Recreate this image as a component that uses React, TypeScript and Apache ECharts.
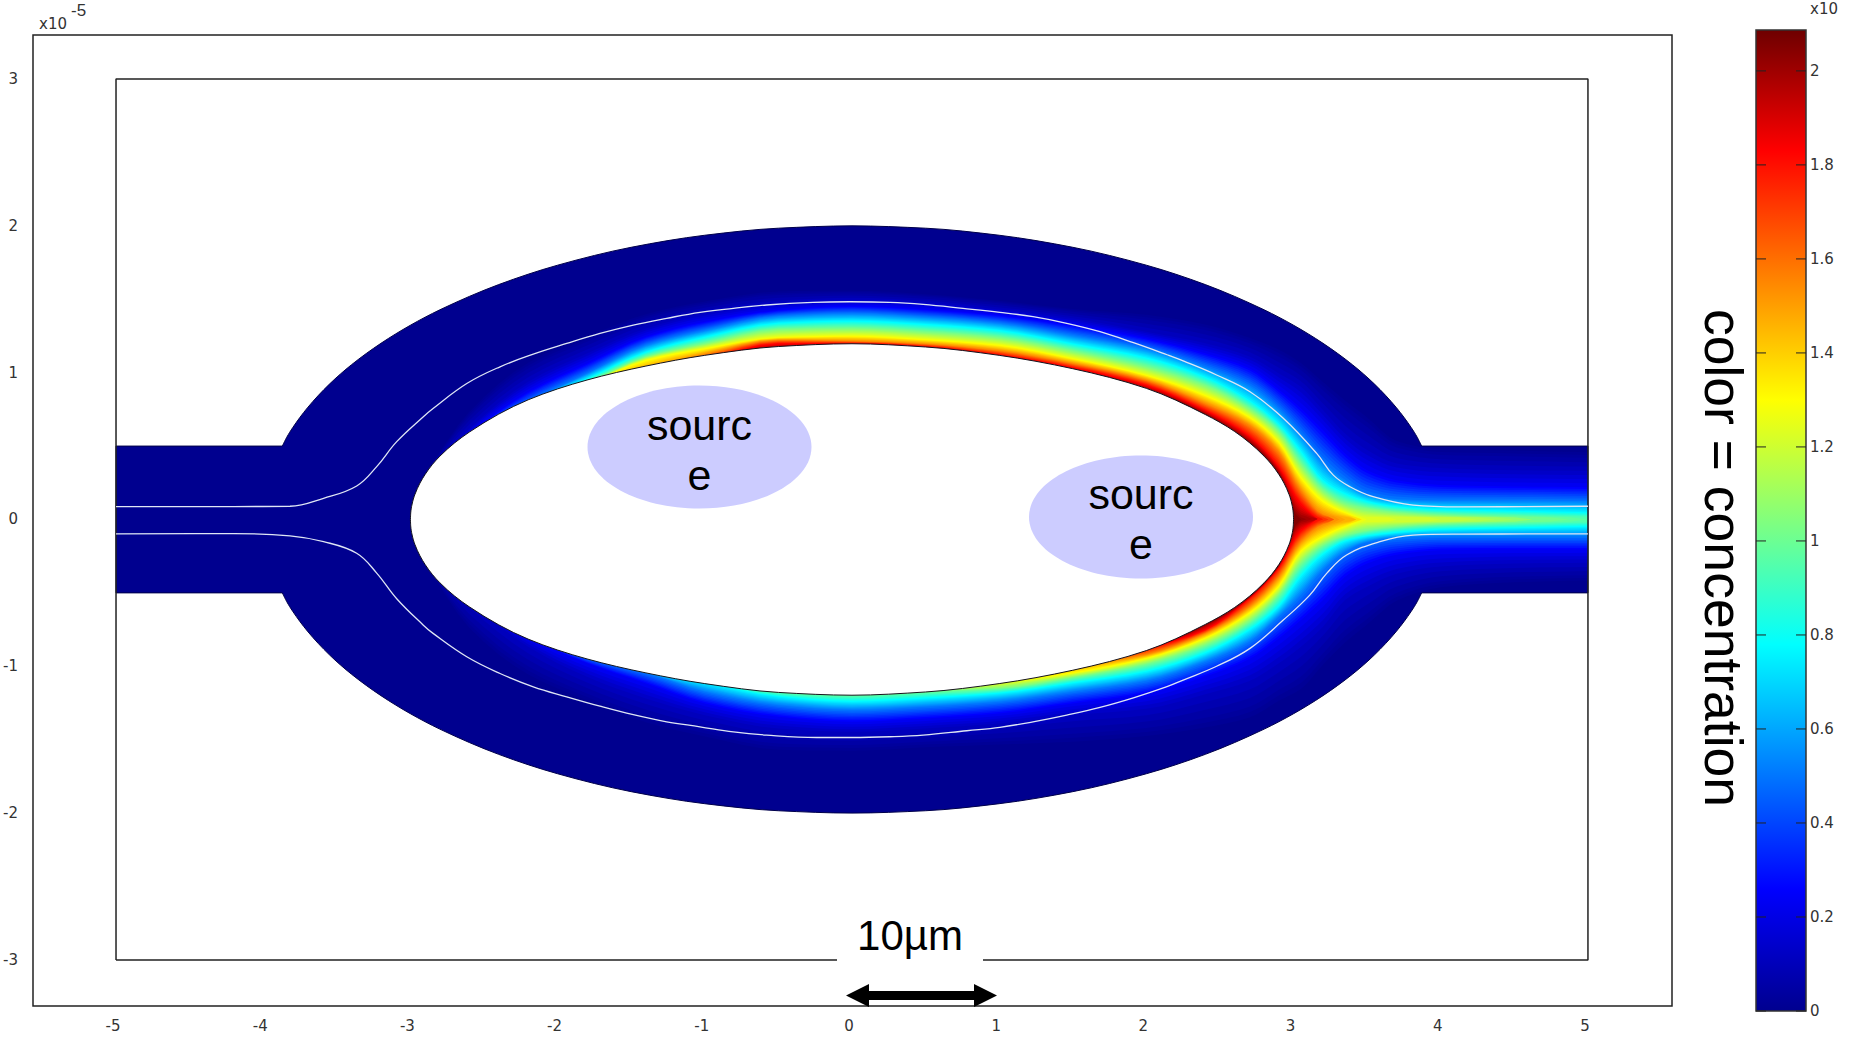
import React, { useEffect, useRef } from "react";
import * as echarts from "echarts";

// ---- axis ticks ----
const xTicks = [-5, -4, -3, -2, -1, 0, 1, 2, 3, 4, 5];
const yTicks = [-3, -2, -1, 0, 1, 2, 3];
const barTicks = [0, 0.2, 0.4, 0.6, 0.8, 1, 1.2, 1.4, 1.6, 1.8, 2];
const barMax = 2.087;

// ---- colour scale (value, r, g, b) ----
const scaleValues = [0, 0.26, 0.78, 1.3, 1.83, 2.087];
const scaleRGB = [[0, 0, 143], [0, 0, 255], [0, 255, 255], [255, 255, 0], [255, 0, 0], [110, 0, 0]];

// ---- geometry ----
const frameBox = [[-5, -3], [-5, 3], [5, 3], [5, -3], [-5, -3]];
const arcX = [-3.87, -3.84, -3.8, -3.7, -3.55, -3.4, -3.2, -3, -2.8, -2.4, -2, -1.5, -1, -0.5, 0, 0.5, 1, 1.5, 2, 2.4, 2.8, 3, 3.2, 3.4, 3.55, 3.7, 3.8, 3.84, 3.87];
const arcY = [0.5, 0.56, 0.625, 0.76, 0.922, 1.054, 1.2, 1.323, 1.428, 1.6, 1.732, 1.854, 1.936, 1.984, 2, 1.984, 1.936, 1.854, 1.732, 1.6, 1.428, 1.323, 1.2, 1.054, 0.922, 0.76, 0.625, 0.56, 0.5];
const holeX = [-3, -2.998, -2.99, -2.97, -2.9, -2.8, -2.6, -2.2, -1.8, -1.4, -1, -0.5, 0, 0.5, 1, 1.5, 2, 2.4, 2.6, 2.8, 2.9, 2.97, 2.99, 2.998, 3];
const holeY = [0, 0.044, 0.098, 0.169, 0.307, 0.431, 0.595, 0.815, 0.95, 1.045, 1.118, 1.178, 1.197, 1.175, 1.118, 1.027, 0.893, 0.715, 0.599, 0.431, 0.307, 0.169, 0.098, 0.044, 0];

// ---- white contour lines ----
const streamTop = [[-5, 0.087], [-4.2, 0.088], [-3.818, 0.09], [-3.59, 0.144], [-3.365, 0.228], [-3.229, 0.36], [-3.093, 0.53], [-2.912, 0.7], [-2.846, 0.756], [-2.617, 0.926], [-2.391, 1.04], [-2.165, 1.126], [-1.938, 1.199], [-1.712, 1.267], [-1.486, 1.324], [-1.259, 1.37], [-1.033, 1.411], [-0.806, 1.438], [-0.58, 1.461], [-0.265, 1.479], [-0.014, 1.483], [0.258, 1.479], [0.484, 1.465], [0.754, 1.438], [1.005, 1.411], [1.23, 1.381], [1.459, 1.336], [1.685, 1.279], [1.912, 1.204], [2.14, 1.122], [2.25, 1.08], [2.477, 0.984], [2.704, 0.87], [2.93, 0.689], [3.157, 0.45], [3.27, 0.302], [3.383, 0.223], [3.54, 0.155], [3.812, 0.098], [4.13, 0.086], [5, 0.09]];
const streamBottom = [[-5, -0.098], [-4.2, -0.096], [-3.818, -0.112], [-3.59, -0.151], [-3.365, -0.23], [-3.229, -0.365], [-3.093, -0.54], [-2.912, -0.72], [-2.846, -0.776], [-2.617, -0.935], [-2.391, -1.049], [-2.165, -1.14], [-1.938, -1.208], [-1.712, -1.272], [-1.486, -1.33], [-1.259, -1.378], [-1.033, -1.412], [-0.806, -1.447], [-0.58, -1.469], [-0.24, -1.485], [0, -1.485], [0.258, -1.48], [0.484, -1.469], [0.78, -1.439], [1.005, -1.416], [1.23, -1.378], [1.459, -1.332], [1.685, -1.28], [1.912, -1.215], [2.14, -1.139], [2.25, -1.094], [2.477, -1], [2.704, -0.878], [2.93, -0.685], [3.11, -0.515], [3.225, -0.367], [3.36, -0.242], [3.587, -0.151], [3.812, -0.107], [4.13, -0.1], [5, -0.098]];

// ---- concentration field: y of each iso-level at the x stations ----
const stations = [-2.9, -2.6, -2.2, -1.8, -1.4, -1, -0.5, 0, 0.5, 1, 1.5, 2, 2.4, 2.7, 2.9, 3.05, 3.2, 3.35, 3.5, 3.7, 4, 4.5, 5];
const levels = [0.05, 0.13, 0.26, 0.52, 0.78, 1.04, 1.3, 1.56, 1.83, 2.05];
const top005 = [0.31, 0.7, 1.029, 1.211, 1.37, 1.461, 1.529, 1.54, 1.517, 1.472, 1.415, 1.36, 1.29, 1.2, 1.109, 1.018, 0.88, 0.745, 0.63, 0.49, 0.44, 0.43, 0.42];
const top013 = [0.3, 0.62, 0.938, 1.131, 1.301, 1.404, 1.472, 1.495, 1.476, 1.431, 1.37, 1.279, 1.2, 1.11, 0.995, 0.904, 0.745, 0.586, 0.473, 0.382, 0.35, 0.335, 0.33];
const top026 = [0.29, 0.58, 0.87, 1.063, 1.245, 1.347, 1.426, 1.454, 1.431, 1.392, 1.324, 1.234, 1.132, 1.03, 0.885, 0.757, 0.609, 0.45, 0.336, 0.268, 0.235, 0.225, 0.22];
const top052 = [0.28, 0.57, 0.8, 0.995, 1.188, 1.29, 1.386, 1.405, 1.381, 1.34, 1.256, 1.166, 1.041, 0.916, 0.757, 0.586, 0.4, 0.27, 0.175, 0.14, 0.13, 0.13, 0.125];
const top078 = [0.27, 0.56, 0.79, 0.96, 1.142, 1.245, 1.34, 1.354, 1.331, 1.29, 1.199, 1.104, 0.973, 0.814, 0.654, 0.47, 0.27, 0.18, 0.125, 0.09, 0.07, 0.06, 0.05];
const top104 = [0.26, 0.55, 0.78, 0.93, 1.108, 1.199, 1.295, 1.302, 1.279, 1.24, 1.149, 1.041, 0.916, 0.757, 0.598, 0.38, 0.2, 0.11, 0.075, 0.05, 0.03, 0.015, 0];
const top130 = [0.25, 0.54, 0.77, 0.92, 1.086, 1.165, 1.24, 1.25, 1.226, 1.188, 1.097, 0.984, 0.848, 0.7, 0.529, 0.29, 0.13, 0.05, 0, 0, 0, 0, 0];
const top156 = [0.24, 0.53, 0.76, 0.91, 1.02, 1.125, 1.222, 1.214, 1.195, 1.149, 1.063, 0.95, 0.791, 0.643, 0.461, 0.2, 0.035, 0, 0, 0, 0, 0, 0];
const top183 = [0.23, 0.52, 0.75, 0.9, 1.01, 1.09, 1.2, 1.2, 1.178, 1.122, 1.036, 0.916, 0.745, 0.57, 0.36, 0.11, 0, 0, 0, 0, 0, 0, 0];
const top205 = [0.22, 0.51, 0.74, 0.89, 1, 1.08, 1.16, 1.18, 1.15, 1.1, 1, 0.885, 0.715, 0.527, 0.315, 0, 0, 0, 0, 0, 0, 0, 0];
const low005 = [-0.3, -0.685, -1, -1.185, -1.333, -1.435, -1.526, -1.537, -1.514, -1.491, -1.46, -1.42, -1.35, -1.276, -1.16, -1.07, -0.913, -0.753, -0.64, -0.5, -0.42, -0.39, -0.38];
const low013 = [-0.29, -0.56, -0.867, -1.072, -1.219, -1.333, -1.424, -1.446, -1.423, -1.389, -1.332, -1.29, -1.19, -1.1, -0.98, -0.867, -0.73, -0.549, -0.458, -0.37, -0.32, -0.3, -0.295];
const low026 = [-0.285, -0.55, -0.8, -0.98, -1.117, -1.253, -1.344, -1.378, -1.355, -1.321, -1.253, -1.185, -1.07, -0.95, -0.81, -0.685, -0.549, -0.39, -0.3, -0.24, -0.21, -0.205, -0.205];
const low052 = [-0.28, -0.54, -0.79, -0.94, -1.045, -1.174, -1.265, -1.298, -1.276, -1.241, -1.173, -1.099, -0.97, -0.833, -0.662, -0.515, -0.344, -0.22, -0.155, -0.125, -0.115, -0.115, -0.115];
const low078 = [-0.27, -0.53, -0.78, -0.93, -1.035, -1.11, -1.208, -1.241, -1.219, -1.185, -1.116, -1.038, -0.912, -0.754, -0.594, -0.39, -0.24, -0.15, -0.115, -0.09, -0.07, -0.06, -0.05];
const low104 = [-0.26, -0.52, -0.77, -0.92, -1.025, -1.1, -1.17, -1.19, -1.17, -1.151, -1.076, -0.985, -0.856, -0.696, -0.515, -0.3, -0.175, -0.11, -0.075, -0.05, -0.03, -0.015, 0];
const low130 = [-0.25, -0.51, -0.76, -0.91, -1.015, -1.09, -1.16, -1.18, -1.16, -1.11, -1.048, -0.947, -0.81, -0.64, -0.458, -0.22, -0.12, -0.05, 0, 0, 0, 0, 0];
const low156 = [-0.24, -0.5, -0.75, -0.9, -1.005, -1.08, -1.15, -1.17, -1.15, -1.1, -1, -0.919, -0.776, -0.594, -0.39, -0.15, -0.035, 0, 0, 0, 0, 0, 0];
const low183 = [-0.23, -0.49, -0.74, -0.89, -0.995, -1.07, -1.14, -1.16, -1.14, -1.09, -0.99, -0.88, -0.753, -0.54, -0.33, -0.08, 0, 0, 0, 0, 0, 0, 0];
const low205 = [-0.22, -0.48, -0.73, -0.88, -0.985, -1.06, -1.13, -1.15, -1.13, -1.08, -0.98, -0.87, -0.715, -0.527, -0.312, 0, 0, 0, 0, 0, 0, 0, 0];
const topLevels = [top005, top013, top026, top052, top078, top104, top130, top156, top183, top205];
const lowLevels = [low005, low013, low026, low052, low078, low104, low130, low156, low183, low205];

// ---- helpers: drawing only ----
function colourAt(v: number): string {
  let i = 0;
  while (i < scaleValues.length - 2 && v > scaleValues[i + 1]) i++;
  const f = Math.min(1, Math.max(0, (v - scaleValues[i]) / (scaleValues[i + 1] - scaleValues[i])));
  const c = scaleRGB[i].map((a, k) => Math.round(a + (scaleRGB[i + 1][k] - a) * f));
  return `rgb(${c[0]},${c[1]},${c[2]})`;
}

// monotone cubic resampling between read points
function resample(xs: number[], ys: number[], sub: number): [number[], number[]] {
  const n = xs.length;
  const d: number[] = [];
  for (let i = 0; i < n - 1; i++) d.push((ys[i + 1] - ys[i]) / (xs[i + 1] - xs[i]));
  const m: number[] = new Array(n).fill(0);
  m[0] = d[0];
  m[n - 1] = d[n - 2];
  for (let i = 1; i < n - 1; i++) {
    if (d[i - 1] * d[i] > 0) {
      const h0 = xs[i] - xs[i - 1];
      const h1 = xs[i + 1] - xs[i];
      const w1 = 2 * h1 + h0;
      const w2 = h1 + 2 * h0;
      m[i] = (w1 + w2) / (w1 / d[i - 1] + w2 / d[i]);
    }
  }
  const ox: number[] = [];
  const oy: number[] = [];
  for (let i = 0; i < n - 1; i++) {
    const h = xs[i + 1] - xs[i];
    for (let s = 0; s < sub; s++) {
      const t = s / sub;
      const t2 = t * t;
      const t3 = t2 * t;
      ox.push(xs[i] + t * h);
      oy.push(
        (2 * t3 - 3 * t2 + 1) * ys[i] + (t3 - 2 * t2 + t) * h * m[i] + (-2 * t3 + 3 * t2) * ys[i + 1] + (t3 - t2) * h * m[i + 1]
      );
    }
  }
  ox.push(xs[n - 1]);
  oy.push(ys[n - 1]);
  return [ox, oy];
}

function renderField(_params: any, api: any) {
  const children: any[] = [];
  const poly = (pts: number[][], fill: string, stroke?: string, lw?: number) =>
    children.push({
      type: "polygon",
      shape: { points: pts.map((p) => api.coord(p)) },
      style: { fill, stroke: stroke ?? "none", lineWidth: lw ?? 0 },
    });

  // channel and ring
  const [ax, ay] = resample(arcX, arcY, 4);
  const outer: number[][] = [[-5, 0.5]];
  ax.forEach((x, i) => outer.push([x, ay[i]]));
  outer.push([5, 0.5], [5, -0.5]);
  for (let i = ax.length - 1; i >= 0; i--) outer.push([ax[i], -ay[i]]);
  outer.push([-5, -0.5]);
  poly(outer, colourAt(0), "#00004a", 1);

  // concentration bands, painted from low to high
  const fx = resample(stations, topLevels[0], 4)[0];
  const topFine = topLevels.map((l) => resample(stations, l, 4)[1].map((v) => Math.max(0, v)));
  const lowFine = lowLevels.map((l) => resample(stations, l, 4)[1].map((v) => Math.min(0, v)));
  const band = (v: number, tp: number[], lw: number[]) => {
    // stop a band where its two edges have nearly met, so no spike runs along y = 0
    let last = fx.length - 1;
    while (last > 0 && tp[last] - lw[last] < 0.025) last--;
    const pts: number[][] = [];
    for (let i = 0; i <= last; i++) pts.push([fx[i], tp[i]]);
    if (last < fx.length - 1) pts.push([fx[last + 1], (tp[last] + lw[last]) / 2]);
    for (let i = last; i >= 0; i--) pts.push([fx[i], lw[i]]);
    poly(pts, colourAt(v));
  };
  [0.0167, 0.033].forEach((v) => {
    const f = (levels[0] - v) / (levels[1] - levels[0]);
    band(
      v,
      topFine[0].map((y, i) => y + (y - topFine[1][i]) * f),
      lowFine[0].map((y, i) => y + (y - lowFine[1][i]) * f)
    );
  });
  for (let k = 0; k < levels.length; k++) {
    if (k === levels.length - 1) {
      band(levels[k], topFine[k], lowFine[k]);
      break;
    }
    const steps = Math.ceil((levels[k + 1] - levels[k]) / 0.035);
    for (let s = 0; s < steps; s++) {
      const f = s / steps;
      band(
        levels[k] + (levels[k + 1] - levels[k]) * f,
        topFine[k].map((y, i) => y + (topFine[k + 1][i] - y) * f),
        lowFine[k].map((y, i) => y + (lowFine[k + 1][i] - y) * f)
      );
    }
  }

  // the hole
  const [hx, hy] = resample(holeX, holeY, 4);
  const hole: number[][] = [];
  hx.forEach((x, i) => hole.push([x, hy[i]]));
  for (let i = hx.length - 1; i >= 0; i--) hole.push([hx[i], -hy[i]]);
  poly(hole, "#ffffff", "#14141e", 1);

  return { type: "group", children };
}

function renderBar(_params: any, api: any) {
  const a = api.coord([0, barMax]);
  const b = api.coord([1, 0]);
  const children: any[] = [
    {
      type: "rect",
      shape: { x: a[0], y: a[1], width: b[0] - a[0], height: b[1] - a[1] },
      style: {
        fill: new echarts.graphic.LinearGradient(
          0, 1, 0, 0,
          scaleValues.map((v) => ({ offset: v / barMax, color: colourAt(v) }))
        ),
        stroke: "#333",
        lineWidth: 1.5,
      },
    },
  ];
  barTicks.forEach((t) => {
    const p = api.coord([0, t]);
    children.push(
      { type: "line", shape: { x1: a[0], y1: p[1], x2: a[0] + 10, y2: p[1] }, style: { stroke: "#222", lineWidth: 1 } },
      { type: "line", shape: { x1: b[0] - 10, y1: p[1], x2: b[0], y2: p[1] }, style: { stroke: "#222", lineWidth: 1 } }
    );
  });
  return { type: "group", children };
}

const labelFont = "DejaVu Sans";
const ink = "#333333";
const noteFont = "Liberation Sans";
const rule = "#222222";

function buildOption(): any {
  return {
    animation: false,
    backgroundColor: "#ffffff",
    grid: [
      { left: 33, right: 193, top: 35, bottom: 32, show: true, borderColor: rule, borderWidth: 1.5, backgroundColor: "transparent" },
      { left: 1756, width: 50, top: 30, height: 981, show: false },
    ],
    xAxis: [
      {
        type: "value", gridIndex: 0, min: -5.564, max: 5.571,
        axisLine: { show: false }, axisTick: { show: false }, splitLine: { show: false },
        axisLabel: { customValues: xTicks, fontFamily: labelFont, fontSize: 15, color: ink, margin: 12, padding: [0, 6, 0, 0] },
      },
      { type: "value", gridIndex: 1, min: 0, max: 1, show: false },
    ],
    yAxis: [
      {
        type: "value", gridIndex: 0, min: -3.314, max: 3.3,
        axisLine: { show: false }, axisTick: { show: false }, splitLine: { show: false },
        axisLabel: { customValues: yTicks, fontFamily: labelFont, fontSize: 15, color: ink, margin: 15, padding: [3, 0, 0, 0] },
      },
      {
        type: "value", gridIndex: 1, min: 0, max: barMax, position: "right",
        axisLine: { show: false }, splitLine: { show: false }, axisTick: { show: false },
        axisLabel: { customValues: barTicks, fontFamily: labelFont, fontSize: 15, color: ink, margin: 4, padding: [4, 0, 0, 0] },
      },
    ],
    series: [
      { type: "custom", xAxisIndex: 0, yAxisIndex: 0, coordinateSystem: "cartesian2d", renderItem: renderField, data: [[0, 0]], silent: true, z: 2, clip: false },
      { type: "line", xAxisIndex: 0, yAxisIndex: 0, data: frameBox, symbol: "none", silent: true, z: 3, lineStyle: { color: rule, width: 1.5 } },
      { type: "line", xAxisIndex: 0, yAxisIndex: 0, data: streamTop, symbol: "none", smooth: 0.4, silent: true, z: 4, lineStyle: { color: "#dfe6f5", width: 1.3 } },
      { type: "line", xAxisIndex: 0, yAxisIndex: 0, data: streamBottom, symbol: "none", smooth: 0.4, silent: true, z: 4, lineStyle: { color: "#dfe6f5", width: 1.3 } },
      { type: "custom", xAxisIndex: 1, yAxisIndex: 1, coordinateSystem: "cartesian2d", renderItem: renderBar, data: [[0, 0]], silent: true, z: 2, clip: false },
    ],
    graphic: [
      { type: "text", z: 100, x: 39, y: 24, style: { text: "x10", font: `15px '${labelFont}'`, fill: ink, verticalAlign: "middle" } },
      { type: "text", z: 100, x: 71, y: 10, style: { text: "-5", font: `17px '${noteFont}'`, fill: ink, verticalAlign: "middle" } },
      { type: "text", z: 100, x: 1810, y: 9, style: { text: "x10", font: `15px '${labelFont}'`, fill: ink, verticalAlign: "middle" } },
      { type: "ellipse", z: 100, shape: { cx: 699.5, cy: 447, rx: 112, ry: 61.5 }, style: { fill: "#ccccff" } },
      { type: "ellipse", z: 100, shape: { cx: 1141, cy: 517, rx: 112, ry: 61.5 }, style: { fill: "#ccccff" } },
      { type: "text", z: 101, x: 699.5, y: 425, style: { text: "sourc", font: `43px '${noteFont}'`, fill: "#000", align: "center", verticalAlign: "middle" } },
      { type: "text", z: 101, x: 699.5, y: 475, style: { text: "e", font: `43px '${noteFont}'`, fill: "#000", align: "center", verticalAlign: "middle" } },
      { type: "text", z: 101, x: 1141, y: 494, style: { text: "sourc", font: `43px '${noteFont}'`, fill: "#000", align: "center", verticalAlign: "middle" } },
      { type: "text", z: 101, x: 1141, y: 544, style: { text: "e", font: `43px '${noteFont}'`, fill: "#000", align: "center", verticalAlign: "middle" } },
      { type: "rect", z: 100, shape: { x: 837, y: 915, width: 146, height: 60 }, style: { fill: "#fff" } },
      { type: "text", z: 101, x: 910, y: 935, style: { text: "10µm", font: `42px '${noteFont}'`, fill: "#000", align: "center", verticalAlign: "middle" } },
      {
        type: "polygon", z: 101,
        shape: { points: [[846, 995.5], [869, 984], [869, 991], [974, 991], [974, 984], [997, 995.5], [974, 1007], [974, 1000], [869, 1000], [869, 1007]] },
        style: { fill: "#000" },
      },
      { type: "text", z: 101, x: 1723, y: 558, rotation: -Math.PI / 2, style: { text: "color = concentration", font: `53.5px '${noteFont}'`, fill: "#000", align: "center", verticalAlign: "middle" } },
    ],
  };
}

export default function App() {
  const ref = useRef<HTMLDivElement>(null);
  useEffect(() => {
    const chart = echarts.init(ref.current!, undefined, { renderer: "svg" });
    chart.setOption(buildOption());
    return () => chart.dispose();
  }, []);
  return <div ref={ref} style={{ position: "fixed", left: 0, top: 0, width: 1865, height: 1038, background: "#fff" }} />;
}
